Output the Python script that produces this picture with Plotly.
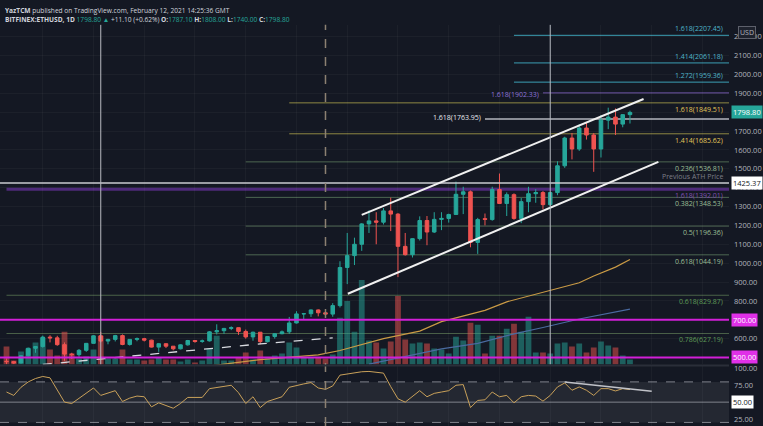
import pandas as pd
import plotly.graph_objects as go

# ETH/USD daily candles (Bitfinex)
dates = pd.date_range("2020-11-18", "2021-02-12", freq="D")
opens = [480, 478, 471, 509, 549, 558, 608, 604, 568, 518,
         515, 538, 575, 615, 587, 596, 616, 569, 596, 600,
         592, 555, 573, 560, 546, 567, 590, 585, 588, 636,
         642, 654, 658, 638, 609, 634, 584, 611, 626, 636,
         683, 731, 732, 752, 737, 730, 775, 977, 1040, 1100,
         1208, 1224, 1217, 1277, 1260, 1089, 1045, 1130, 1226, 1165,
         1232, 1237, 1258, 1365, 1378, 1110, 1236, 1231, 1390, 1316,
         1363, 1237, 1326, 1368, 1374, 1310, 1374, 1516, 1663, 1605,
         1716, 1679, 1605, 1758, 1774, 1737, 1787.1]
highs = [495, 482, 512, 552, 560, 616, 618, 615, 580, 525,
         545, 577, 618, 636, 599, 620, 622, 598, 606, 604,
         594, 577, 575, 561, 569, 593, 592, 595, 640, 676,
         657, 665, 659, 648, 637, 635, 613, 628, 643, 715,
         745, 736, 755, 755, 748, 788, 1010, 1160, 1135, 1212,
         1280, 1270, 1292, 1347, 1265, 1160, 1132, 1248, 1250, 1270,
         1270, 1262, 1432, 1405, 1385, 1240, 1263, 1405, 1475, 1375,
         1370, 1345, 1405, 1392, 1382, 1375, 1540, 1670, 1690, 1735,
         1745, 1690, 1785, 1824, 1820, 1790, 1808]
lows = [464, 465, 468, 505, 525, 552, 580, 562, 482, 492,
        504, 530, 574, 580, 570, 585, 565, 563, 586, 585,
        553, 530, 550, 538, 543, 563, 578, 578, 585, 622,
        625, 645, 620, 600, 589, 570, 580, 600, 623, 625,
        680, 700, 715, 718, 715, 716, 765, 889, 990, 1065,
        1160, 1100, 1205, 1170, 926, 1040, 1030, 1120, 1095, 1160,
        1175, 1215, 1255, 1260, 1084, 1049, 1200, 1225, 1315, 1250,
        1230, 1212, 1270, 1320, 1285, 1302, 1360, 1505, 1550, 1595,
        1655, 1484, 1560, 1710, 1679, 1720, 1740]
closes = [478, 471, 509, 549, 558, 608, 604, 568, 518, 515,
          538, 575, 615, 587, 596, 616, 569, 596, 600, 592,
          555, 573, 560, 546, 567, 590, 585, 588, 636, 642,
          654, 658, 638, 609, 634, 584, 611, 626, 636, 683,
          731, 732, 752, 737, 730, 775, 977, 1040, 1100, 1208,
          1224, 1217, 1277, 1260, 1089, 1045, 1130, 1226, 1165, 1232,
          1237, 1258, 1365, 1378, 1110, 1231, 1232, 1390, 1316, 1363,
          1237, 1326, 1368, 1374, 1310, 1374, 1516, 1663, 1605, 1716,
          1679, 1605, 1758, 1774, 1737, 1787.1, 1798.8]
volume = [18, 4, 13, 16, 22, 27, 15, 9, 33, 11,
          6, 8, 15, 29, 6, 6, 15, 5, 5, 4,
          5, 7, 5, 5, 3, 5, 2, 4, 16, 29,
          4, 4, 7, 12, 5, 14, 6, 9, 11, 22,
          17, 7, 7, 7, 6, 10, 47, 64, 33, 85,
          24, 22, 16, 23, 69, 25, 21, 22, 21, 16,
          15, 11, 28, 24, 42, 40, 11, 29, 29, 36,
          41, 33, 48, 12, 12, 11, 21, 22, 18, 21,
          12, 17, 23, 19, 17, 9, 5]
rsi = [65, 60, 72, 80, 85, 88, 86, 68, 50, 48,
       56, 64, 71, 60, 63, 67, 51, 56, 59, 58,
       43, 49, 45, 41, 48, 57, 57, 57, 70, 72,
       74, 75, 64, 48, 58, 42, 51, 54, 58, 72,
       75, 77, 79, 71, 69, 74, 90, 92, 93.5, 95,
       95.5, 94, 93, 73, 55, 50, 58, 67, 58, 63,
       65, 67, 75, 76, 42, 52.5, 53.5, 65, 58, 60,
       49, 58, 60, 59, 51.5, 60, 72.5, 78.4, 67.6, 72.5,
       67.6, 60, 70, 70, 66.6, 70, 68.6]

# moving averages (sparse readings)
ma_orange_dates = ["2020-12-16", "2020-12-23", "2020-12-31", "2021-01-03", "2021-01-09",
                   "2021-01-14", "2021-01-17", "2021-01-23", "2021-01-26", "2021-01-31",
                   "2021-02-05", "2021-02-07", "2021-02-10", "2021-02-12"]
ma_orange = [455, 489, 514, 537, 600, 640, 690, 750, 795, 844, 896, 932, 979, 1019]
ma_blue_dates = ["2021-01-07", "2021-01-17", "2021-01-22", "2021-01-27", "2021-01-31",
                 "2021-02-05", "2021-02-12"]
ma_blue = [465, 546, 575, 625, 659, 704, 756]
dash_line_dates = ["2020-11-23", "2020-12-23", "2021-01-02"]
dash_line = [463, 572, 604]

# drawn channel and rsi trendline
channel_upper = (["2021-01-06", "2021-02-13 21:00"], [1256, 1870])
channel_lower = (["2021-01-04 02:00", "2021-02-15 22:00"], [838, 1537])
rsi_trend = (["2021-02-03", "2021-02-15"], [80, 66.2])

# fib levels: (label, price, start date, group)
fib_levels = [
    ("1.618(2207.45)", 2207.45, "2021-01-27", "cyan"),
    ("1.414(2061.18)", 2061.18, "2021-01-27", "cyan"),
    ("1.272(1959.36)", 1959.36, "2021-01-27", "cyan"),
    ("1.618(1849.51)", 1849.51, "2020-12-27", "yellow"),
    ("1.414(1685.62)", 1685.62, "2020-12-27", "yellow"),
    ("0.236(1536.81)", 1536.81, "2020-12-21", "green"),
    ("1.618(1392.01)", 1392.01, "2020-11-18", "purple"),
    ("0.382(1348.53)", 1348.53, "2020-12-21", "green"),
    ("0.5(1196.36)", 1196.36, "2020-12-21", "green"),
    ("0.618(1044.19)", 1044.19, "2020-12-21", "green"),
    ("0.618(829.87)", 829.87, "2020-11-18", "dkgreen"),
    ("0.786(627.19)", 627.19, "2020-11-18", "dkgreen"),
]
left_levels = [("1.618(1902.33)", 1902.33, "2021-01-31", "violet"),
               ("1.618(1763.95)", 1763.95, "2021-01-23", "gray")]
prev_ath = 1425.37
support_levels = [700, 500]
last_price = 1798.80

W, H = 763, 426
x_start, x_end = "2020-11-17 02:29", "2021-02-25 15:50"
bg = "#141823"
up, dn = "#26a69a", "#ef5350"
price_dom = [1 - 364 / H, 1 - 22 / H]
rsi_dom = [0, 1 - 366 / H]

line_col = {"cyan": "#3c9fb4", "yellow": "#8f8844", "green": "#4d6651", "purple": "#4e2a7a",
            "dkgreen": "#4a6148", "violet": "#6f55a8", "gray": "#8a8d96"}
text_col = {"cyan": "#4fb3c8", "yellow": "#e2c65a", "green": "#9cbf96", "purple": "#7f4fb0",
            "dkgreen": "#5f9a58", "violet": "#8d73d6", "gray": "#e6e8ee"}
line_w = {"cyan": 1, "yellow": 1, "green": 1, "purple": 3, "dkgreen": 1, "violet": 1, "gray": 2}

fig = go.Figure()

vol_colors = ["rgba(38,166,154,0.5)" if c >= o else "rgba(239,83,80,0.5)" for o, c in zip(opens, closes)]
fig.add_trace(go.Bar(x=dates, y=volume, marker_color=vol_colors, marker_line_width=0,
                     width=0.8 * 86400000, xaxis="x", yaxis="y"))
fig.add_trace(go.Scatter(x=ma_orange_dates, y=ma_orange, mode="lines",
                         line=dict(color="#c99a45", width=1.2), xaxis="x", yaxis="y3"))
fig.add_trace(go.Scatter(x=ma_blue_dates, y=ma_blue, mode="lines",
                         line=dict(color="#4a6aa0", width=1.2), xaxis="x", yaxis="y3"))
fig.add_trace(go.Scatter(x=dash_line_dates, y=dash_line, mode="lines",
                         line=dict(color="#d8dae0", width=1.3, dash="dash"), xaxis="x", yaxis="y3"))
fig.add_trace(go.Candlestick(x=dates, open=opens, high=highs, low=lows, close=closes,
                             increasing=dict(line=dict(color=up, width=1), fillcolor=up),
                             decreasing=dict(line=dict(color=dn, width=1), fillcolor=dn),
                             whiskerwidth=0, xaxis="x", yaxis="y3"))
fig.add_trace(go.Scatter(x=dates, y=rsi, mode="lines", line=dict(color="#c9a15a", width=1),
                         xaxis="x", yaxis="y2"))

shapes = []
ann = []
for label, p, start, g in fib_levels:
    shapes.append(dict(type="line", xref="x", yref="y3", x0=start, x1=x_end, y0=p, y1=p,
                       line=dict(color=line_col[g], width=line_w[g]), layer="below"))
    above = g == "cyan"
    ann.append(dict(text=label, xref="x", yref="y3", x=x_end, y=p, xanchor="right",
                    yanchor="bottom" if above else "top", xshift=-4, yshift=0,
                    showarrow=False, font=dict(size=7, color=text_col[g])))
for label, p, start, g in left_levels:
    shapes.append(dict(type="line", xref="x", yref="y3", x0=start, x1=x_end, y0=p, y1=p,
                       line=dict(color=line_col[g], width=line_w[g]), layer="below"))
    ann.append(dict(text=label, xref="x", yref="y3", x=start, y=p, xanchor="right", yanchor="middle",
                    xshift=-2, yshift=-2 if g == "violet" else 2,
                    showarrow=False, font=dict(size=7, color=text_col[g])))

shapes.append(dict(type="line", xref="x", yref="y3", x0=x_start, x1=x_end, y0=prev_ath, y1=prev_ath,
                   line=dict(color="#c8cad0", width=1.5), layer="above"))
ann.append(dict(text="Previous ATH Price", xref="x", yref="y3", x=x_end, y=prev_ath, xanchor="right",
                yanchor="bottom", xshift=-4, showarrow=False, font=dict(size=7, color="#7c7f88")))
for p in support_levels:
    shapes.append(dict(type="line", xref="x", yref="y3", x0=x_start, x1=x_end, y0=p, y1=p,
                       line=dict(color="#d21fd8", width=2), layer="above"))

for xs, ys in (channel_upper, channel_lower):
    shapes.append(dict(type="line", xref="x", yref="y3", x0=xs[0], x1=xs[1], y0=ys[0], y1=ys[1],
                       line=dict(color="#f0f0f0", width=2), layer="above"))

# vertical markers
for d in ("2020-12-01", "2021-02-01"):
    shapes.append(dict(type="line", xref="x", yref="paper", x0=d, x1=d, y0=price_dom[0], y1=price_dom[1],
                       line=dict(color="#b8bac2", width=1), layer="above"))
shapes.append(dict(type="line", xref="x", yref="paper", x0="2021-01-01", x1="2021-01-01", y0=0,
                   y1=price_dom[1], line=dict(color="#8c8072", width=1.5, dash="dash"), layer="above"))

# rsi pane
shapes.append(dict(type="rect", xref="x", yref="y2", x0=x_start, x1=x_end, y0=20, y1=80,
                   fillcolor="rgba(255,255,255,0.07)", line_width=0, layer="below"))
for lv, ds in ((80, "dash"), (20, "dash"), (50, "solid")):
    shapes.append(dict(type="line", xref="x", yref="y2", x0=x_start, x1=x_end, y0=lv, y1=lv,
                       line=dict(color="#80838c", width=1, dash=ds), layer="below"))
shapes.append(dict(type="line", xref="x", yref="y2", x0=rsi_trend[0][0], x1=rsi_trend[0][1],
                   y0=rsi_trend[1][0], y1=rsi_trend[1][1], line=dict(color="#c0c2c8", width=1.5)))
shapes.append(dict(type="line", xref="paper", yref="paper", x0=0, x1=1, y0=1 - 365 / H, y1=1 - 365 / H,
                   line=dict(color="#2a2e39", width=2)))

# axis boxes (paper x = 1 is the right edge of the plot area)
def axis_box(text, y, yref, bgc, fc):
    ann.append(dict(text=text, xref="paper", yref=yref, x=1, y=y, xanchor="left", xshift=2,
                    yanchor="middle", showarrow=False, bgcolor=bgc, borderpad=1,
                    font=dict(size=7.5, color=fc, family="Open Sans")))

axis_box("%.2f" % last_price, last_price, "y3", up, "#ffffff")
axis_box("%.2f" % prev_ath, prev_ath, "y3", "#ffffff", "#131722")
for p in support_levels:
    axis_box("%.2f" % p, p, "y3", "#e030e8", "#ffffff")
axis_box("50.00", 50, "y2", "#ffffff", "#131722")
ann.append(dict(text="USD", xref="paper", yref="paper", x=1, xshift=9, y=1 - 30 / H, xanchor="left",
                yanchor="middle", showarrow=False, bgcolor="#1e222d", bordercolor="#5d606b",
                borderwidth=1, borderpad=1, font=dict(size=7, color="#b2b5be")))

# header
teal = "<span style='color:#26a69a'>%s</span>"
ann.append(dict(text="<b>YazTCM</b> published on TradingView.com, February 12, 2021 14:25:36 GMT",
                xref="paper", yref="paper", x=0.004, y=1 - 1 / H, xanchor="left", yanchor="top",
                showarrow=False, font=dict(size=6.6, color="#d1d4dc")))
ann.append(dict(text="<b>BITFINEX:ETHUSD, 1D</b> " + teal % "1798.80 ▲" + " +11.10 (+0.62%) <b>O:</b>"
                + teal % "1787.10" + " <b>H:</b>" + teal % "1808.00" + " <b>L:</b>" + teal % "1740.00"
                + " <b>C:</b>" + teal % "1798.80",
                xref="paper", yref="paper", x=0.004, y=1 - 10 / H, xanchor="left", yanchor="top",
                showarrow=False, font=dict(size=6.6, color="#d1d4dc")))

grid = "rgba(255,255,255,0.035)"
fig.update_layout(
    width=W, height=H, margin=dict(l=0, r=W - 729, t=0, b=0),
    paper_bgcolor=bg, plot_bgcolor=bg, showlegend=False,
    font=dict(family="Open Sans", size=7.5, color="#b2b5be"),
    xaxis=dict(range=[x_start, x_end], domain=[0, 1], showticklabels=False, rangeslider_visible=False,
               showgrid=True, gridcolor=grid, tick0="2020-11-23", dtick=7 * 86400000, zeroline=False,
               anchor="y2"),
    yaxis=dict(domain=price_dom, range=[0, 342], visible=False, showgrid=False),
    yaxis3=dict(overlaying="y", range=[463.2, 2263], side="right", anchor="x", dtick=100, tick0=0,
                tickformat=".2f", showgrid=True, gridcolor=grid, zeroline=False, ticks="",
                ticklabelstandoff=4),
    yaxis2=dict(domain=rsi_dom, range=[14.7, 102.9], side="right", anchor="x", tickvals=[25, 50, 75, 100],
                tickformat=".2f", showgrid=False, zeroline=False, ticks="", ticklabelstandoff=4),
    shapes=shapes, annotations=ann,
)

fig.write_html("out.html", config={"displayModeBar": False},
               post_script="document.body.style.margin='0';document.body.style.overflow='hidden';")
